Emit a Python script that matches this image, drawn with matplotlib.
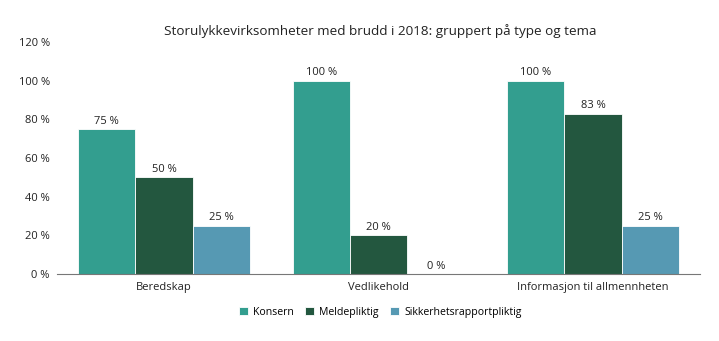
import matplotlib
matplotlib.use("Agg")
import matplotlib.pyplot as plt
import numpy as np

# Données
kategorier = ["Beredskap", "Vedlikehold", "Informasjon til allmennheten"]
serier = ["Konsern", "Meldepliktig", "Sikkerhetsrapportpliktig"]
konsern = [75, 100, 100]
meldepliktig = [50, 20, 83]
sikkerhet = [25, 0, 25]
farger = ["#339e8f", "#23573f", "#5699b3"]

plt.rcParams["font.family"] = ["Open Sans", "DejaVu Sans"]

fig = plt.figure(figsize=(7.19, 3.41), dpi=100)
ax = fig.add_axes([0.079, 0.196, 0.895, 0.681])

x = np.arange(len(kategorier))
bredde = 0.267
for i, (navn, verdier, farge) in enumerate(zip(serier, [konsern, meldepliktig, sikkerhet], farger)):
    barer = ax.bar(x + (i - 1) * bredde, verdier, bredde, color=farge, label=navn,
                   edgecolor="white", linewidth=0.6)
    for b, v in zip(barer, verdier):
        ax.text(b.get_x() + b.get_width() / 2, v + 1.2, f"{v} %", ha="center", va="bottom",
                fontsize=8, color="#222222")

ax.set_xlim(-0.5, 2.5)
ax.set_ylim(0, 120)
ax.set_yticks(range(0, 121, 20))
ax.set_yticklabels([f"{t} %" for t in range(0, 121, 20)])
ax.set_xticks(x)
ax.set_xticklabels(kategorier)
ax.tick_params(axis="both", length=0, labelsize=8, colors="#222222")
ax.tick_params(axis="y", pad=5)
ax.tick_params(axis="x", pad=6)
for s in ["top", "right", "left"]:
    ax.spines[s].set_visible(False)
ax.spines["bottom"].set_color("#777777")
ax.spines["bottom"].set_linewidth(0.8)

fig.text(0.529, 0.91, "Storulykkevirksomheter med brudd i 2018: gruppert på type og tema",
         ha="center", va="center", fontsize=9.7, color="#222222")

fig.legend(loc="center", bbox_to_anchor=(0.529, 0.085), ncol=3, frameon=False, fontsize=7.6,
           handlelength=0.8, handleheight=0.8, handletextpad=0.5, columnspacing=1.1)

fig.savefig("out.png", dpi=100)
